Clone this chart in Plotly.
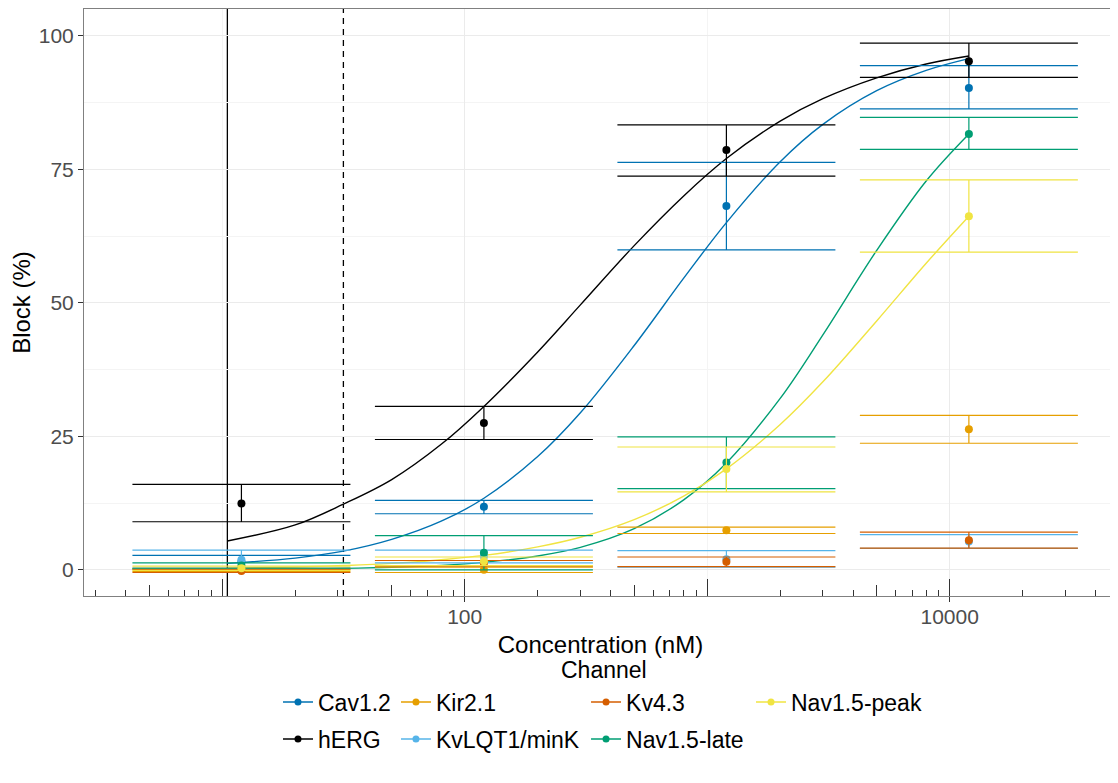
import plotly.graph_objects as go

# ---------------- data ----------------
channels = ["Cav1.2", "hERG", "Kir2.1", "KvLQT1/minK", "Kv4.3", "Nav1.5-late", "Nav1.5-peak"]

conc = [12, 120, 1200, 12000]  # nM

block_mean = {
    "Cav1.2":      [1.5, 11.8, 68.1, 90.2],
    "hERG":        [12.4, 27.5, 78.6, 95.2],
    "Kir2.1":      [0.0, 0.0, 7.4, 26.3],
    "KvLQT1/minK": [1.9, 2.5, 2.0, 5.3],
    "Kv4.3":       [-0.2, 1.2, 1.5, 5.55],
    "Nav1.5-late": [0.8, 3.2, 20.1, 81.6],
    "Nav1.5-peak": [0.3, 1.6, 18.9, 66.2],
}
block_lo = {
    "Cav1.2":      [0.3, 10.5, 59.9, 86.3],
    "hERG":        [9.0, 24.4, 73.7, 92.2],
    "Kir2.1":      [-0.3, -0.5, 6.8, 23.7],
    "KvLQT1/minK": [0.1, 1.3, 0.5, 4.0],
    "Kv4.3":       [-0.5, 0.7, 0.6, 4.05],
    "Nav1.5-late": [0.3, 0.0, 15.2, 78.7],
    "Nav1.5-peak": [-0.1, 0.8, 14.6, 59.5],
}
block_hi = {
    "Cav1.2":      [2.7, 13.0, 76.3, 94.4],
    "hERG":        [16.0, 30.6, 83.3, 98.6],
    "Kir2.1":      [0.3, 0.5, 8.0, 28.9],
    "KvLQT1/minK": [3.7, 3.7, 3.6, 6.6],
    "Kv4.3":       [0.1, 1.75, 2.4, 7.05],
    "Nav1.5-late": [1.3, 6.4, 24.9, 84.7],
    "Nav1.5-peak": [0.7, 2.4, 23.0, 73.0],
}

# fitted curves
curve_conc = [10.5, 20, 31.6, 50, 80, 120, 200, 300, 500, 800, 1200, 2000, 3000, 5000, 8000, 12000]
curve_block = {
    "Cav1.2":      [1.2, 2.2, 3.5, 5.7, 9.1, 13.4, 21.2, 29.4, 42.0, 54.6, 65.0, 76.4, 83.4, 89.7, 93.5, 95.7],
    "hERG":        [5.4, 8.4, 12.3, 16.9, 23.5, 30.6, 40.8, 49.6, 60.7, 70.0, 77.0, 84.0, 88.2, 92.1, 94.7, 96.2],
    "Nav1.5-late": [0.1, 0.15, 0.27, 0.47, 0.84, 1.4, 2.6, 4.2, 7.7, 13.1, 20.0, 32.1, 44.0, 59.8, 72.8, 81.6],
    "Nav1.5-peak": [0.3, 0.53, 0.8, 1.2, 1.9, 2.7, 4.3, 6.1, 9.4, 13.8, 18.9, 27.2, 35.2, 46.6, 57.4, 66.2],
}

cmax = 10.5      # solid line
cmax3 = 31.6     # dashed line

x_ticks = [100, 10000]
x_ticktext = ["100", "10000"]
x_minor = [10, 1000]
y_ticks = [0, 25, 50, 75, 100]
y_minor = [12.5, 37.5, 62.5, 87.5]

logticks_short = [3, 4, 6, 7, 8, 9, 20, 30, 40, 60, 70, 80, 90,
                  200, 300, 400, 600, 700, 800, 900,
                  2000, 3000, 4000, 6000, 7000, 8000, 9000,
                  20000, 30000, 40000]
logticks_mid = [5, 50, 500, 5000]
logticks_long = [10, 100, 1000, 10000]

# ---------------- styles ----------------
colors = {
    "Cav1.2": "#0072B2",
    "hERG": "#000000",
    "Kir2.1": "#E69F00",
    "KvLQT1/minK": "#56B4E9",
    "Kv4.3": "#D55E00",
    "Nav1.5-late": "#009E73",
    "Nav1.5-peak": "#F0E442",
}
# legend slots: (legend id, paper x, paper y)
legend_slots = {
    "Cav1.2": ("legend", 0.1878, -0.1806),
    "Kir2.1": ("legend2", 0.3020, -0.1806),
    "Kv4.3": ("legend3", 0.4860, -0.1806),
    "Nav1.5-peak": ("legend4", 0.6457, -0.1806),
    "hERG": ("legend5", 0.1878, -0.2436),
    "KvLQT1/minK": ("legend6", 0.3020, -0.2436),
    "Nav1.5-late": ("legend7", 0.4860, -0.2436),
}

FONT = "Liberation Sans, Arial, sans-serif"
x_range_log = [0.43, 4.69]
y_range = [-4.9, 105.0]

fig = go.Figure()

# curves
for ch in channels:
    if ch in curve_block:
        fig.add_trace(go.Scatter(
            x=curve_conc, y=curve_block[ch], mode="lines",
            line=dict(color=colors[ch], width=1.4, shape="spline"),
            showlegend=False, hoverinfo="skip"))

# error bars + points
for ch in channels:
    y = block_mean[ch]
    plus = [h - m for h, m in zip(block_hi[ch], y)]
    minus = [m - l for m, l in zip(y, block_lo[ch])]
    fig.add_trace(go.Scatter(
        x=conc, y=y, mode="markers",
        marker=dict(color=colors[ch], size=8),
        error_y=dict(type="data", symmetric=False, array=plus, arrayminus=minus,
                     color=colors[ch], thickness=1.2, width=109),
        showlegend=False, name=ch))

# legend entries
for ch in channels:
    lg, lx, ly = legend_slots[ch]
    fig.add_trace(go.Scatter(
        x=[None], y=[None], mode="lines+markers", name=ch,
        line=dict(color=colors[ch], width=1.4),
        marker=dict(color=colors[ch], size=7),
        legend=lg, showlegend=True))

# overlay axes for log ticks (inside)
for ax_id in ["x2", "x3", "x4"]:
    fig.add_trace(go.Scatter(x=[], y=[], xaxis=ax_id, yaxis="y",
                             showlegend=False, hoverinfo="skip"))

fig.add_vline(x=cmax, line=dict(color="black", width=1.3), layer="below")
fig.add_vline(x=cmax3, line=dict(color="black", width=1.3, dash="6px,5px"), layer="below")

common_overlay = dict(type="log", range=x_range_log, overlaying="x", anchor="y",
                      side="bottom", showgrid=False, zeroline=False, showline=False,
                      showticklabels=False, ticks="inside", tickcolor="#333333",
                      tickwidth=1, tickmode="array", automargin=False)

legends = {}
for ch, (lg, lx, ly) in legend_slots.items():
    legends[lg] = dict(x=lx, y=ly, xanchor="left", yanchor="middle",
                       orientation="v", bgcolor="rgba(0,0,0,0)",
                       font=dict(family=FONT, size=23, color="black"))

# the page body adds an 8px offset, so the figure is 8px smaller each way
fig.update_layout(
    width=1110, height=775,
    margin=dict(l=76, r=1, t=1, b=187, autoexpand=False),
    paper_bgcolor="white", plot_bgcolor="white",
    font=dict(family=FONT, color="black"),
    xaxis=dict(
        type="log", range=x_range_log, automargin=False,
        tickmode="array", tickvals=x_ticks, ticktext=x_ticktext,
        ticks="outside", ticklen=5, tickwidth=1, tickcolor="#333333",
        ticklabelstandoff=-3,
        tickfont=dict(family=FONT, size=21, color="#4d4d4d"),
        showgrid=True, gridcolor="#ebebeb", gridwidth=1.1,
        minor=dict(tickmode="array", tickvals=x_minor, showgrid=True,
                   gridcolor="#f4f4f4", gridwidth=1, ticks=""),
        showline=True, linecolor="#808080", linewidth=1, mirror=True,
        zeroline=False,
        title=dict(text="Concentration (nM)", font=dict(family=FONT, size=24, color="black"),
                   standoff=8),
    ),
    xaxis2=dict(common_overlay, tickvals=logticks_short, ticklen=6),
    xaxis3=dict(common_overlay, tickvals=logticks_mid, ticklen=11),
    xaxis4=dict(common_overlay, tickvals=logticks_long, ticklen=17),
    yaxis=dict(
        range=y_range, tickmode="array", tickvals=y_ticks, automargin=False,
        ticks="outside", ticklen=5, tickwidth=1, tickcolor="#333333",
        tickfont=dict(family=FONT, size=21, color="#4d4d4d"),
        showgrid=True, gridcolor="#ebebeb", gridwidth=1.1,
        minor=dict(tickmode="array", tickvals=y_minor, showgrid=True,
                   gridcolor="#f4f4f4", gridwidth=1, ticks=""),
        showline=True, linecolor="#808080", linewidth=1, mirror=True,
        zeroline=False,
        title=dict(text="Block (%)", font=dict(family=FONT, size=24, color="black"),
                   standoff=1),
    ),
    annotations=[dict(text="Channel", xref="paper", yref="paper",
                      x=0.5034, y=-0.126, xanchor="center", yanchor="middle",
                      showarrow=False, font=dict(family=FONT, size=23, color="black"))],
    **legends,
)

fig.write_html("out.html")
